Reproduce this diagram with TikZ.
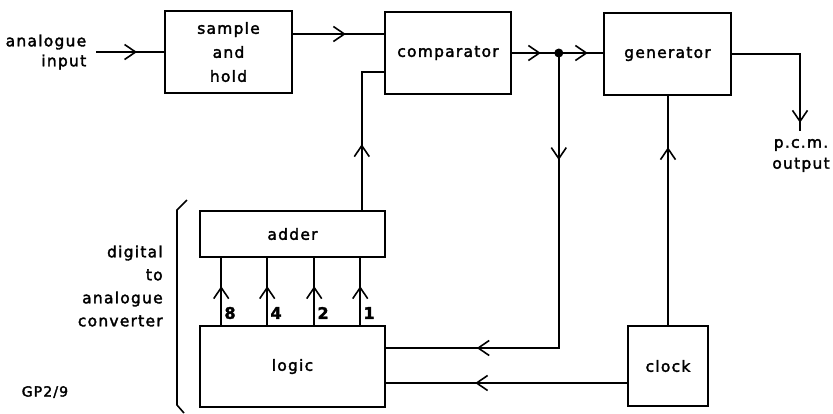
\documentclass[tikz,border=0pt]{standalone}
\usepackage{fontspec}
\setmainfont[LetterSpace=8,FakeBold=2.2]{DejaVu Sans}
\usetikzlibrary{arrows.meta,decorations.markings}
\tikzset{
  chev/.tip={Straight Barb[length=11pt,width=15pt]},
  arrowpos/.style={postaction={decorate,decoration={markings,mark=at position #1 with {\arrow{chev}}}}},
  box/.style={draw,rectangle,inner sep=0pt,align=center,font=\fontsize{15.5}{24}\selectfont},
  lbl/.style={inner sep=0pt,font=\fontsize{15.5}{23}\selectfont},
  num/.style={inner sep=0pt,anchor=west,font=\fontsize{16}{16}\selectfont\bfseries},
  wire/.style={line width=1.6pt}
}
\begin{document}
\begin{tikzpicture}[x=1pt,y=-1pt,line width=1.6pt]
\useasboundingbox (0,0) rectangle (833,413);
% boxes
\node[box,minimum width=127pt,minimum height=82pt] (sh) at (228.5,52) {sample\\and\\hold};
\node[box,minimum width=126pt,minimum height=82pt] (comp) at (448,53) {comparator};
\node[box,minimum width=127pt,minimum height=82pt] (gen) at (667.5,54) {generator};
\node[box,minimum width=185pt,minimum height=46pt] (adder) at (292.5,234) {adder};
\node[box,minimum width=185pt,minimum height=81pt] (logic) at (292.5,366.5) {logic};
\node[box,minimum width=80pt,minimum height=80pt] (clock) at (668,366) {clock};
% labels
\node[lbl,align=right,anchor=east,font=\fontsize{15.5}{20}\selectfont] (inlbl) at (87,52) {analogue\\input};
\node[lbl,align=center,font=\fontsize{15.5}{21}\selectfont] (outlbl) at (801,155.5) {p.c.m.\\output};
\node[lbl,align=right,anchor=east] (daclbl) at (163.5,286) {digital\\to\\analogue\\converter};
\node[lbl,anchor=west,font=\fontsize{14}{15}\selectfont] (gp) at (21,392) {GP2/9};
% coordinates
\coordinate (in) at (96,52);
\coordinate (shout) at ([yshift=18pt]sh.east);
\coordinate (addout) at ([xshift=-24pt]adder.north east);
\coordinate (cin2) at ([yshift=-19pt]comp.west);
\coordinate (dot) at ([xshift=47pt]comp.east);
\coordinate (lin1) at ([yshift=18.5pt]logic.east);
\coordinate (clout) at ([yshift=-17pt]clock.west);
\coordinate (pcm) at (800,131);
% connectors
\draw[wire,arrowpos=41pt] (in) -- (sh.west);
\draw[wire,arrowpos=53pt] (shout) -- (shout -| comp.west);
\draw[wire,arrowpos=66pt] (addout) |- (cin2);
\draw[wire,arrowpos=29pt] (comp.east) -- (dot);
\draw[wire,arrowpos=29pt] (dot) -- (dot -| gen.west);
\fill (dot) circle (4.5pt);
\draw[wire,arrowpos=107pt,arrowpos=377pt] (dot) |- (lin1);
\draw[wire,arrowpos=152pt] (clout) -- (clout -| logic.east);
\draw[wire,arrowpos=178pt] (clock.north) -- (clock.north |- gen.south);
\draw[wire,arrowpos=137pt] (gen.east) -| (pcm);
% logic -> adder bits
\foreach \dx/\n [count=\i] in {22/8,68/4,115/2,161/1}{
  \draw[wire,arrowpos=39pt] ([xshift=\dx pt]logic.north west) coordinate (b\i) -- ([xshift=\dx pt]adder.south west);
  \node[num] (n\i) at ([xshift=\dx pt+2.5pt]logic.north west |- 0,313) {\n};
}
% bracket
\draw[wire] (187,200) -- (177,210) -- (177,405) -- (184,413);
\end{tikzpicture}
\end{document}
